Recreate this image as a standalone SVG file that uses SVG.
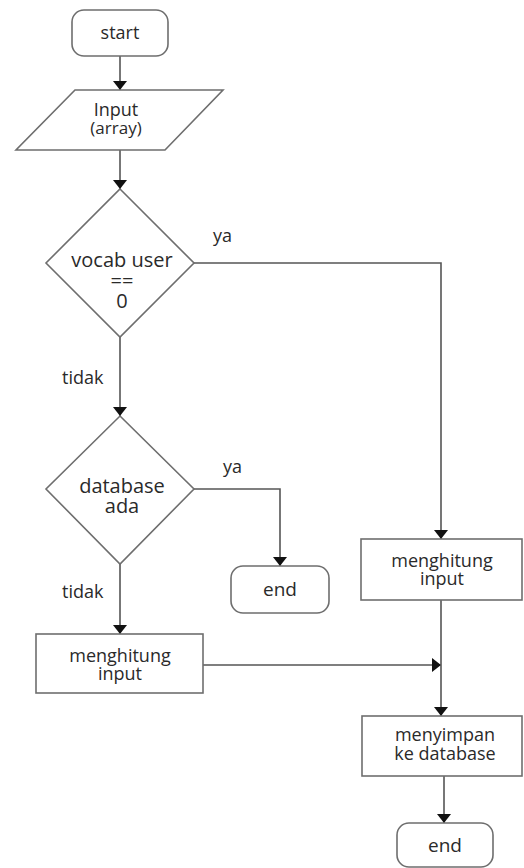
<svg xmlns="http://www.w3.org/2000/svg" width="524" height="868" viewBox="0 0 524 868">
<defs>
<marker id="ah" markerWidth="10" markerHeight="14" refX="9" refY="7" orient="auto" markerUnits="userSpaceOnUse">
<path d="M0,0 L9,7 L0,14 Z" fill="#111"/>
</marker>
</defs>
<style>
.sh{fill:#fff;stroke:#6e6e6e;stroke-width:1.6}
.t{font-family:"Open Sans","Liberation Sans",sans-serif;fill:#2a2a2a;text-anchor:middle}
.c{fill:none;stroke:#555;stroke-width:1.6}
.lb{font-family:"Open Sans","Liberation Sans",sans-serif;fill:#2a2a2a;font-size:18px}
</style>
<rect width="524" height="868" fill="#fff"/>
<g id="connectors">
<path class="c" d="M120,56 V90" marker-end="url(#ah)"/>
<path class="c" d="M120,150 V189" marker-end="url(#ah)"/>
<path class="c" d="M194,263 H441 V539" marker-end="url(#ah)"/>
<path class="c" d="M120,337 V416" marker-end="url(#ah)"/>
<path class="c" d="M194,489 H280 V566" marker-end="url(#ah)"/>
<path class="c" d="M120,564 V634" marker-end="url(#ah)"/>
<path class="c" d="M203,665 H441" marker-end="url(#ah)"/>
<path class="c" d="M441,600 V716" marker-end="url(#ah)"/>
<path class="c" d="M444,776 V823" marker-end="url(#ah)"/>
<text class="lb" x="213" y="242">ya</text>
<text class="lb" x="62" y="384">tidak</text>
<text class="lb" x="223" y="473">ya</text>
<text class="lb" x="62" y="598">tidak</text>
</g>
<g id="start">
<rect class="sh" x="72" y="10" width="96" height="46" rx="12"/>
<text class="t" x="120" y="39" font-size="18">start</text>
</g>
<g id="input">
<polygon class="sh" points="75,90 223,90 165,150 16,150"/>
<text class="t" x="116" y="116" font-size="18">Input</text>
<text class="t" x="116" y="134" font-size="17">(array)</text>
</g>
<g id="decision1">
<polygon class="sh" points="120,189 194,263 120,337 46,263"/>
<text class="t" x="122" y="267" font-size="20">vocab user</text>
<text class="t" x="122" y="288" font-size="20">==</text>
<text class="t" x="122" y="308" font-size="20">0</text>
</g>
<g id="decision2">
<polygon class="sh" points="120,416 194,489 120,564 46,489"/>
<text class="t" x="122" y="493" font-size="20">database</text>
<text class="t" x="122" y="513" font-size="20">ada</text>
</g>
<g id="end1">
<rect class="sh" x="231" y="566" width="98" height="47" rx="12"/>
<text class="t" x="280" y="596" font-size="19">end</text>
</g>
<g id="process1">
<rect class="sh" x="36" y="634" width="167" height="59"/>
<text class="t" x="120" y="662" font-size="18">menghitung</text>
<text class="t" x="120" y="680" font-size="18">input</text>
</g>
<g id="process2">
<rect class="sh" x="361" y="539" width="161" height="61"/>
<text class="t" x="442" y="567" font-size="18">menghitung</text>
<text class="t" x="442" y="585" font-size="18">input</text>
</g>
<g id="process3">
<rect class="sh" x="362" y="716" width="160" height="60"/>
<text class="t" x="445" y="741" font-size="18">menyimpan</text>
<text class="t" x="445" y="760" font-size="18">ke database</text>
</g>
<g id="end2">
<rect class="sh" x="397" y="823" width="96" height="44" rx="12"/>
<text class="t" x="445" y="852" font-size="19">end</text>
</g>
</svg>
